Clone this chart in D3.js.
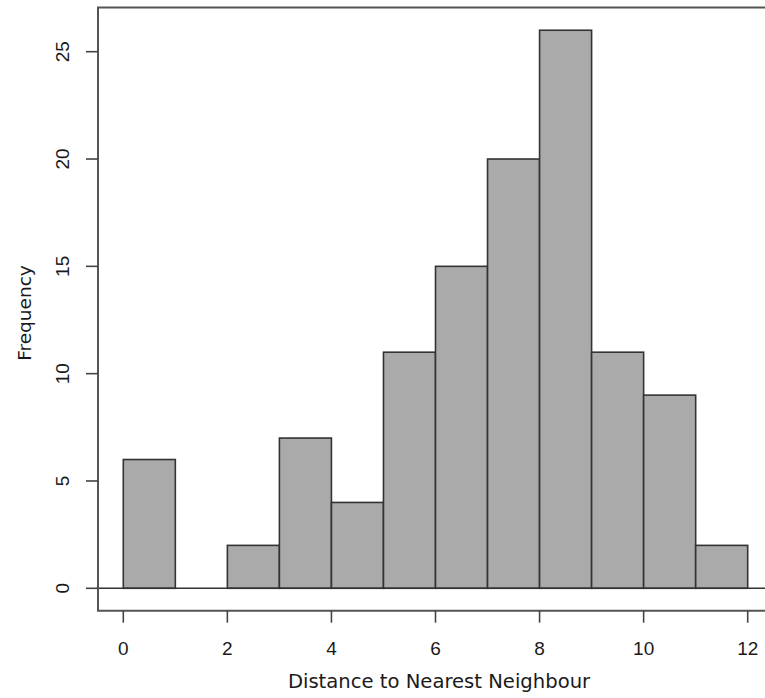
<!DOCTYPE html>
<html>
<head>
<meta charset="utf-8">
<script src="https://cdn.jsdelivr.net/npm/d3@7"></script>
<style>
  body { margin: 0; background: #fff; }
  svg { display: block; }
  .tick-label { font-family: "Liberation Sans", Arial, sans-serif; font-size: 19px; fill: #1a1a1a; }
  .axis-title { font-family: "DejaVu Sans", Tahoma, sans-serif; font-size: 19.6px; fill: #1a1a1a; }
</style>
</head>
<body>
<svg id="chart" width="765" height="698"></svg>
<script>
// histogram bins (left edges, width 1) and counts
const binStarts = [0, 1, 2, 3, 4, 5, 6, 7, 8, 9, 10, 11];
const counts = [6, 0, 2, 7, 4, 11, 15, 20, 26, 11, 9, 2];
const xTicks = [0, 2, 4, 6, 8, 10, 12];
const yTicks = [0, 5, 10, 15, 20, 25];

const svg = d3.select("#chart");

// plot frame
const box = { left: 98, top: 7.5, right: 772, bottom: 610.7 };

const x = d3.scaleLinear().domain([0, 12]).range([123.3, 747.7]);
const y = d3.scaleLinear().domain([0, 25]).range([588.3, 51.7]);

// bars
svg.append("g").selectAll("rect")
  .data(binStarts.map((s, i) => ({ x0: s, x1: s + 1, n: counts[i] })).filter(d => d.n > 0))
  .enter().append("rect")
  .attr("x", d => x(d.x0))
  .attr("y", d => y(d.n))
  .attr("width", d => x(d.x1) - x(d.x0))
  .attr("height", d => y(0) - y(d.n))
  .attr("fill", "#aaaaaa")
  .attr("stroke", "#333")
  .attr("stroke-width", 1.6);

// zero line
svg.append("line")
  .attr("x1", box.left).attr("x2", box.right)
  .attr("y1", y(0)).attr("y2", y(0))
  .attr("stroke", "#333").attr("stroke-width", 1.6);

// frame
svg.append("path")
  .attr("d", `M${box.right},${box.top}H${box.left}V${box.bottom}H${box.right}`)
  .attr("fill", "none")
  .attr("stroke", "#555")
  .attr("stroke-width", 2);

// x axis ticks + labels
const xg = svg.append("g");
xg.selectAll("line").data(xTicks).enter().append("line")
  .attr("x1", d => x(d)).attr("x2", d => x(d))
  .attr("y1", box.bottom).attr("y2", box.bottom + 12)
  .attr("stroke", "#444").attr("stroke-width", 1.6);
xg.selectAll("text").data(xTicks).enter().append("text")
  .attr("class", "tick-label")
  .attr("x", d => x(d)).attr("y", 655)
  .attr("text-anchor", "middle")
  .text(d => d);

// y axis ticks + labels
const yg = svg.append("g");
yg.selectAll("line").data(yTicks).enter().append("line")
  .attr("x1", box.left - 12).attr("x2", box.left)
  .attr("y1", d => y(d)).attr("y2", d => y(d))
  .attr("stroke", "#444").attr("stroke-width", 1.6);
yg.selectAll("text").data(yTicks).enter().append("text")
  .attr("class", "tick-label")
  .attr("transform", d => `translate(69,${y(d)}) rotate(-90)`)
  .attr("text-anchor", "middle")
  .text(d => d);

// axis titles
svg.append("text")
  .attr("class", "axis-title")
  .attr("x", 439).attr("y", 688)
  .attr("text-anchor", "middle")
  .text("Distance to Nearest Neighbour");

svg.append("text")
  .attr("class", "axis-title")
  .attr("transform", "translate(31,313) rotate(-90)")
  .attr("text-anchor", "middle")
  .style("font-size", "18.5px")
  .text("Frequency");
</script>
</body>
</html>
